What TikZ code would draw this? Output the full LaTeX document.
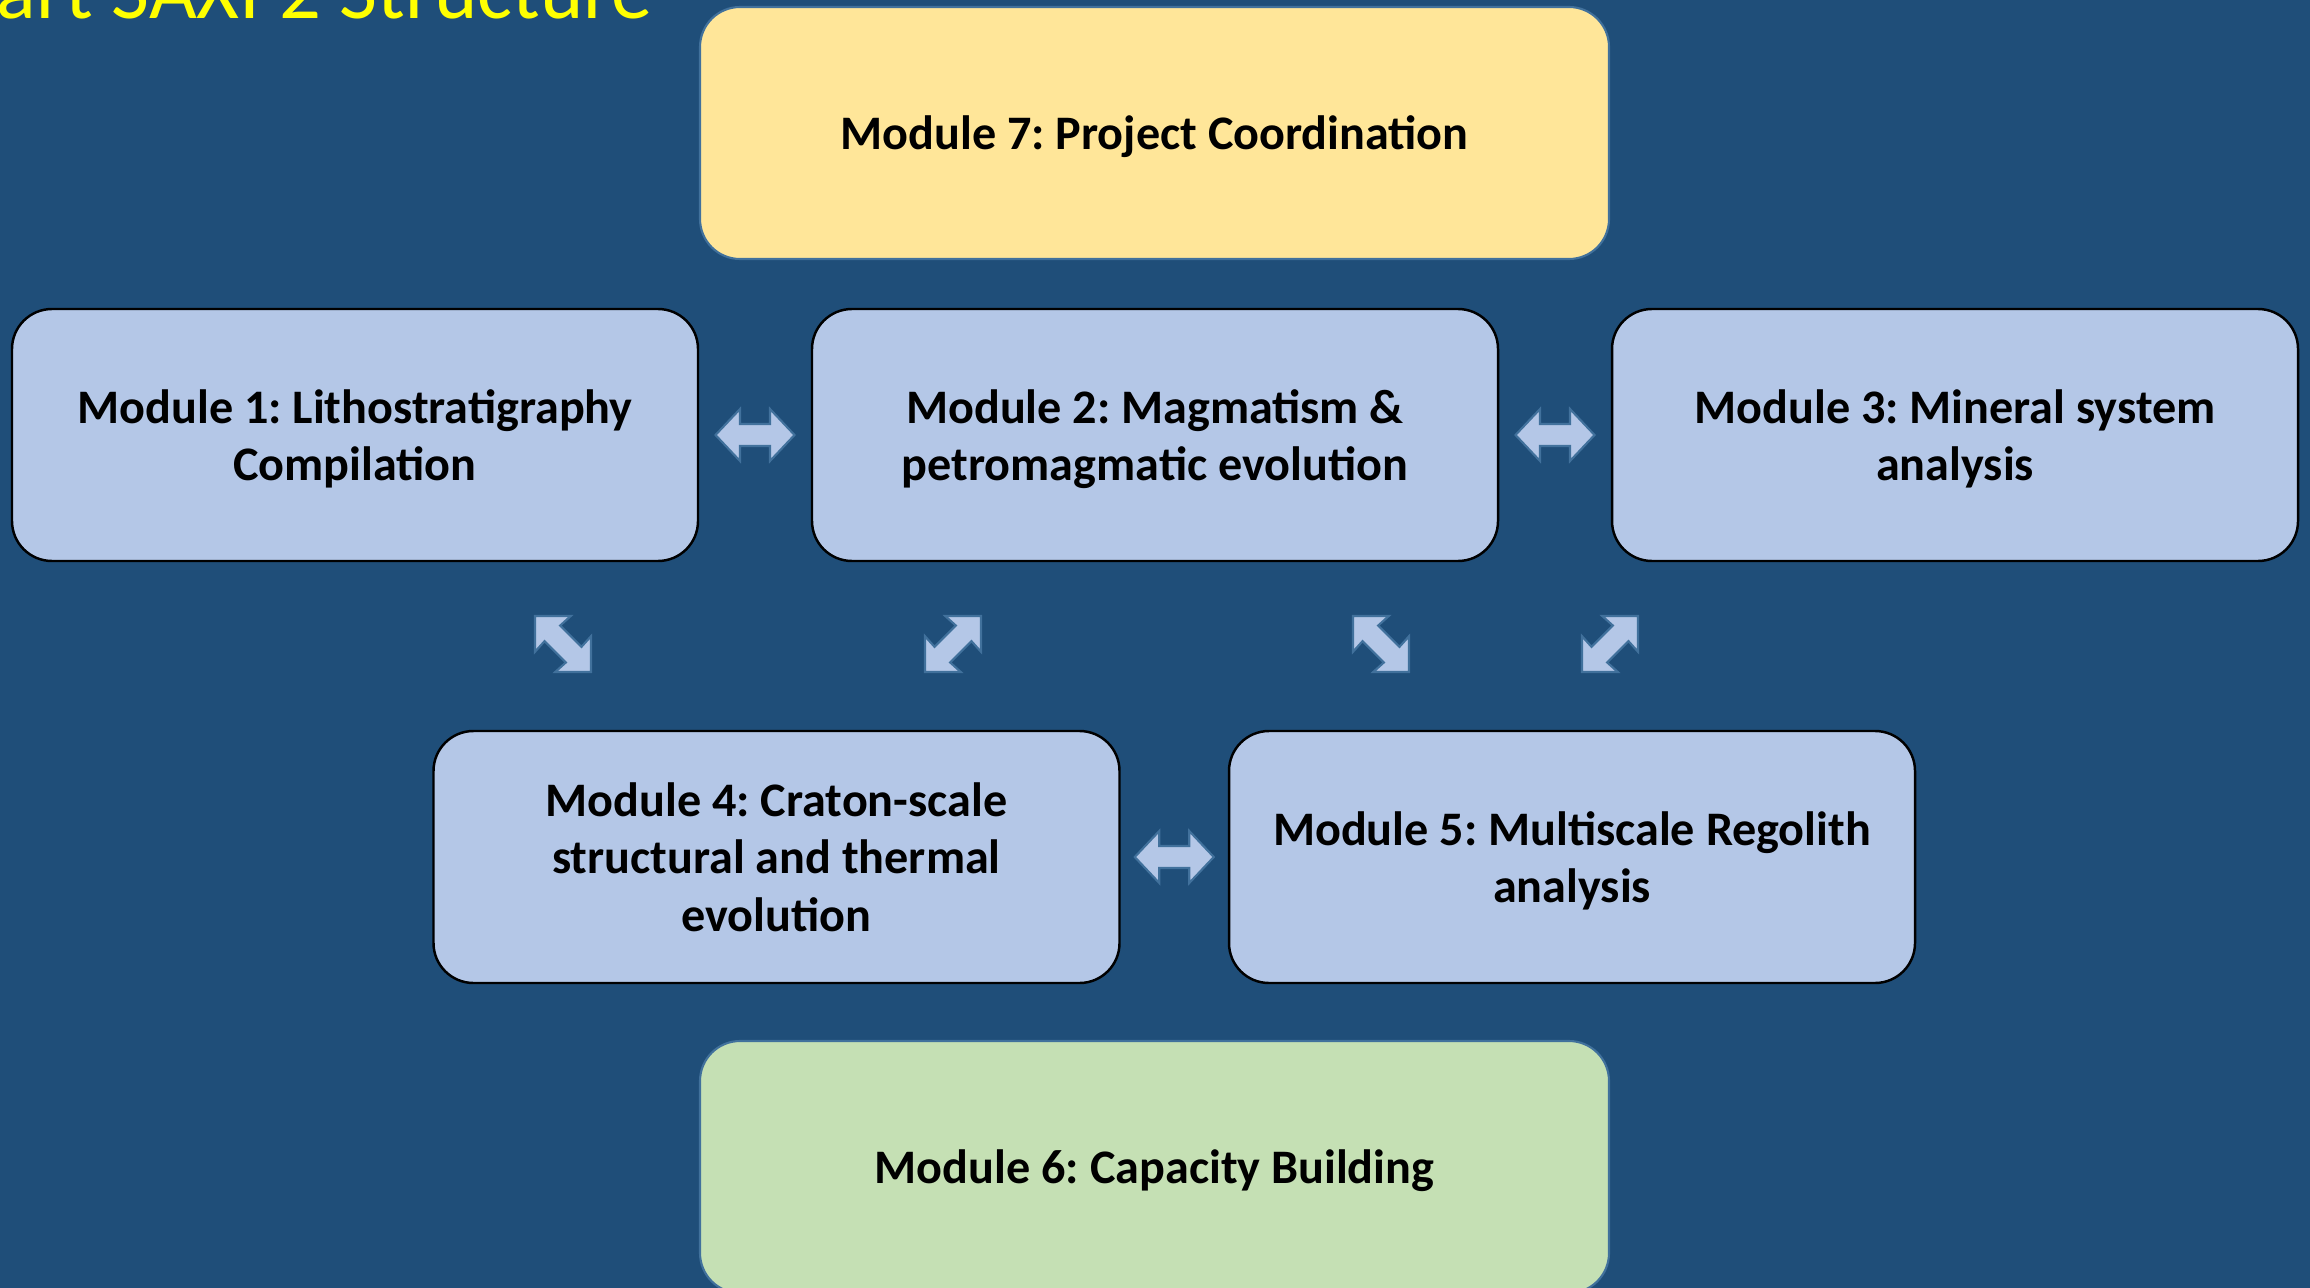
\documentclass[tikz,border=0pt]{standalone}
\usepackage{fontspec}
\setmainfont{Carlito}
\usetikzlibrary{calc}
\frenchspacing

\definecolor{bgblue}{HTML}{1F4E79}
\definecolor{modblue}{HTML}{B4C7E7}
\definecolor{modyellow}{HTML}{FFE699}
\definecolor{modgreen}{HTML}{C5E0B4}
\definecolor{edgeblue}{HTML}{41719C}
\definecolor{titleyellow}{HTML}{FFFF00}

\newcommand\modfont{\fontsize{13.7}{16.4}\selectfont\bfseries}

\tikzset{
  arrowshape/.style={fill=modblue, draw=edgeblue, line width=0.6pt, line join=miter},
  pics/hdouble/.style={code={
    \draw[arrowshape] (-0.395,0) -- (-0.15,0.26) -- (-0.15,0.11) -- (0.15,0.11) -- (0.15,0.26)
      -- (0.395,0) -- (0.15,-0.26) -- (0.15,-0.11) -- (-0.15,-0.11) -- (-0.15,-0.26) -- cycle;
  }},
  pics/ddouble/.style={code={
    \draw[arrowshape] (-0.28,0.28) -- (0.078,0.28) -- (-0.028,0.185) -- (0.185,-0.028) -- (0.28,0.078)
      -- (0.28,-0.28) -- (-0.078,-0.28) -- (0.028,-0.185) -- (-0.185,0.028) -- (-0.28,-0.078) -- cycle;
  }}
}

\begin{document}
\begin{tikzpicture}[
  box/.style={draw=black, line width=0.7pt, fill=modblue, rounded corners=0.4cm,
    minimum width=6.86cm, minimum height=2.52cm, align=center, font=\modfont, text depth=0pt},
  widebox/.style={box, draw=edgeblue, line width=0.6pt, minimum width=9.09cm}
]

\clip (0,0) rectangle (23.10,-12.88);
\fill[bgblue] (0,0) rectangle (23.10,-12.88);

% title, cut by the top and left edges
\node[anchor=base east, inner sep=0pt, text=titleyellow, font=\fontsize{23.5}{28}\selectfont] (title) at (6.53,-0.19) {art SAXI 2 Structure};

% modules
\node[widebox, fill=modyellow] (m7) at (11.545,-1.33) {Module 7: Project Coordination};
\node[box] (m1) at (3.55,-4.35) {Module 1: Lithostratigraphy\\Compilation};
\node[box] (m2) at (11.55,-4.35) {Module 2: Magmatism \&\\petromagmatic evolution};
\node[box] (m3) at (19.55,-4.35) {Module 3: Mineral system\\analysis};
\node[box] (m4) at (7.765,-8.57) {Module 4: Craton-scale\\structural and thermal\\evolution};
\node[box] (m5) at (15.72,-8.57) {Module 5: Multiscale Regolith\\analysis};
\node[widebox, fill=modgreen] (m6) at (11.545,-11.67) {Module 6: Capacity Building};

% two-way arrows
\pic at ($(m1.east)!0.5!(m2.west)$) {hdouble};
\pic at ($(m2.east)!0.5!(m3.west)$) {hdouble};
\pic at ($(m4.east)!0.5!(m5.west)$) {hdouble};
\pic at (5.63,-6.44) {ddouble};
\pic[xscale=-1] at (9.53,-6.44) {ddouble};
\pic at (13.81,-6.44) {ddouble};
\pic[xscale=-1] at (16.10,-6.44) {ddouble};
\end{tikzpicture}
\end{document}
